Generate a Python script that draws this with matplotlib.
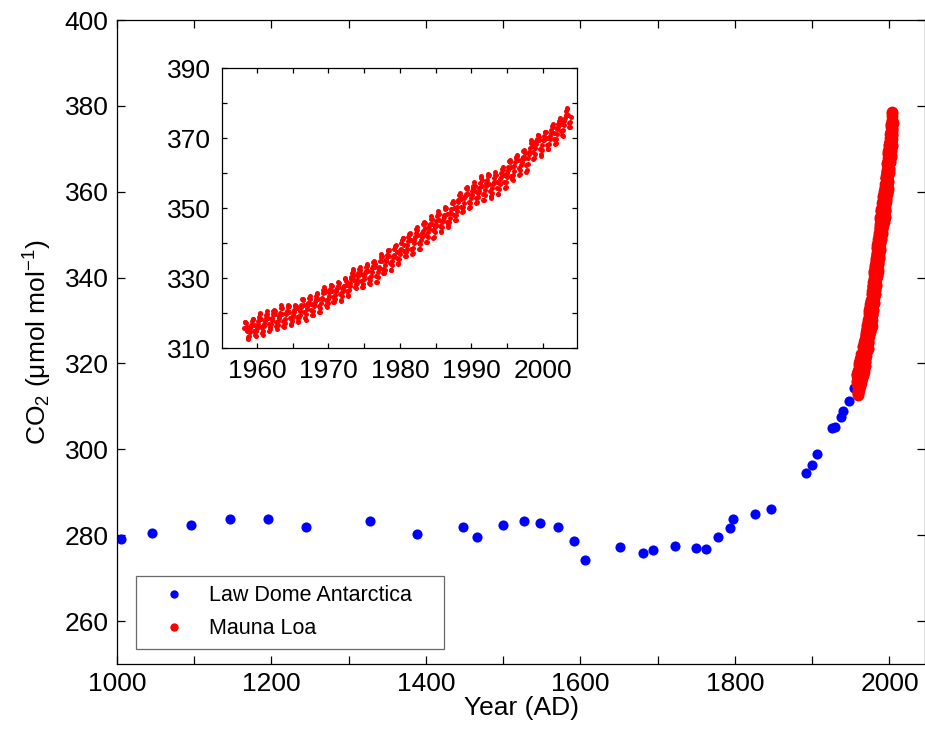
import numpy as np
import matplotlib
matplotlib.use("Agg")
import matplotlib.pyplot as plt
from matplotlib.ticker import FixedLocator, FixedFormatter

plt.rcParams['font.family'] = ['Liberation Sans', 'DejaVu Sans']
plt.rcParams['mathtext.fontset'] = 'custom'
plt.rcParams['mathtext.rm'] = 'Liberation Sans'
plt.rcParams['mathtext.it'] = 'Liberation Sans'
plt.rcParams['mathtext.default'] = 'regular'

# ---- Law Dome Antarctica ice-core CO2 ----
law_years = [1005, 1045, 1096, 1146, 1196, 1245, 1328, 1388, 1448, 1466,
             1500, 1527, 1548, 1571, 1591, 1606, 1651, 1681, 1694, 1722,
             1750, 1762, 1778, 1794, 1797, 1826, 1846, 1892, 1900, 1906,
             1926, 1930, 1937, 1940, 1948, 1954]
law_co2 = [279.2, 280.4, 282.3, 283.8, 283.8, 281.8, 283.4, 280.2, 281.8, 279.5,
           282.4, 283.2, 282.8, 281.9, 278.7, 274.2, 277.3, 275.8, 276.5, 277.4,
           277.1, 276.7, 279.5, 281.6, 283.7, 285.0, 286.0, 294.6, 296.3, 298.9,
           304.9, 305.3, 307.6, 308.9, 311.2, 314.3]

# ---- Mauna Loa monthly CO2 (first year starts in March) ----
ml_first_year = 1958
ml_first_month = 3
ml_monthly = [
    [315.7, 317.5, 317.5, 317.1, 315.9, 314.9, 313.2, 312.7, 313.3, 314.7],
    [315.6, 316.4, 316.7, 317.7, 318.3, 318.2, 316.5, 314.8, 313.8, 313.3, 314.8, 315.6],
    [316.4, 317.0, 317.6, 319.0, 320.0, 319.6, 318.2, 315.9, 314.2, 313.8, 315.0, 316.2],
    [316.9, 317.7, 318.5, 319.5, 320.6, 319.8, 318.6, 316.8, 314.8, 315.4, 316.1, 317.0],
    [317.9, 318.6, 319.7, 320.6, 321.0, 320.6, 319.6, 317.4, 316.3, 315.4, 316.7, 317.7],
    [318.7, 319.1, 319.9, 321.4, 322.3, 321.5, 319.7, 317.8, 316.2, 316.0, 317.1, 318.3],
    [319.6, 320.1, 320.7, 321.8, 322.3, 321.9, 320.4, 318.7, 316.7, 316.8, 317.8, 318.7],
    [319.4, 320.4, 320.9, 322.1, 322.2, 321.9, 321.4, 318.8, 317.8, 317.3, 318.9, 319.4],
    [320.6, 321.6, 322.4, 323.9, 324.0, 323.8, 322.4, 320.4, 318.6, 318.1, 319.8, 321.1],
    [322.1, 322.5, 323.0, 324.4, 325.0, 324.1, 322.6, 320.9, 319.3, 319.3, 320.7, 322.0],
    [322.6, 323.2, 323.9, 325.0, 325.6, 325.4, 324.1, 322.0, 320.4, 320.3, 321.3, 322.8],
    [324.0, 324.4, 325.6, 326.7, 327.4, 326.7, 325.9, 323.7, 322.4, 321.8, 322.9, 324.1],
    [325.0, 326.0, 326.9, 328.1, 328.1, 327.7, 326.4, 324.7, 323.1, 323.2, 324.0, 325.1],
    [326.2, 326.7, 327.2, 327.8, 328.9, 328.6, 327.3, 325.5, 323.4, 323.6, 324.8, 326.0],
    [326.8, 327.6, 327.8, 329.7, 330.1, 329.1, 328.1, 326.3, 324.9, 325.1, 326.5, 327.6],
    [328.5, 329.6, 330.3, 331.5, 332.5, 332.1, 330.9, 329.3, 327.5, 327.2, 328.2, 328.6],
    [329.4, 330.7, 331.5, 332.7, 333.2, 332.2, 331.1, 329.1, 327.3, 327.3, 328.3, 329.6],
    [330.7, 331.5, 331.9, 333.2, 333.9, 333.5, 332.0, 330.0, 328.5, 328.3, 329.4, 330.6],
    [331.6, 332.8, 333.5, 334.6, 334.8, 334.0, 333.1, 330.7, 329.0, 328.8, 330.2, 331.6],
    [332.7, 333.1, 335.0, 336.1, 336.9, 336.2, 334.9, 332.6, 331.3, 331.3, 332.4, 333.6],
    [335.0, 335.3, 336.7, 337.7, 338.0, 338.0, 336.4, 334.4, 332.4, 332.4, 333.8, 334.9],
    [336.1, 336.7, 338.3, 339.0, 339.2, 339.3, 337.5, 335.8, 334.0, 334.2, 335.3, 336.8],
    [337.9, 338.3, 340.0, 340.9, 341.5, 341.3, 339.4, 337.7, 336.2, 336.2, 337.3, 338.3],
    [339.3, 340.6, 341.6, 342.5, 343.0, 342.5, 340.8, 338.4, 337.0, 337.1, 338.6, 339.9],
    [341.0, 341.7, 342.8, 344.0, 344.6, 343.8, 342.3, 340.1, 338.3, 338.3, 339.6, 340.9],
    [341.7, 342.9, 343.3, 345.3, 346.0, 345.6, 344.2, 342.3, 340.4, 340.4, 341.6, 343.1],
    [344.1, 344.8, 345.5, 346.8, 347.6, 347.0, 345.5, 343.6, 341.4, 341.7, 343.1, 344.7],
    [345.2, 346.2, 347.7, 348.3, 349.1, 348.4, 346.7, 345.0, 343.3, 343.1, 344.5, 345.9],
    [346.6, 347.3, 348.0, 349.8, 350.4, 349.9, 348.2, 346.1, 345.2, 344.5, 345.9, 347.2],
    [348.5, 348.7, 349.7, 351.3, 352.1, 351.5, 350.1, 348.1, 346.5, 346.6, 348.0, 349.2],
    [350.4, 351.6, 352.4, 353.7, 354.2, 353.7, 352.7, 350.4, 348.9, 349.1, 350.2, 351.4],
    [352.9, 353.3, 354.0, 355.6, 355.9, 355.4, 354.0, 351.8, 350.1, 350.3, 351.5, 352.9],
    [353.8, 355.0, 355.7, 356.3, 357.3, 356.3, 354.8, 353.0, 351.3, 351.6, 353.1, 354.3],
    [354.8, 355.7, 357.2, 358.7, 359.1, 358.1, 356.2, 353.9, 352.3, 352.4, 353.8, 355.1],
    [356.3, 357.1, 357.9, 359.1, 359.6, 359.3, 357.0, 354.9, 353.0, 353.3, 354.3, 355.6],
    [357.0, 357.3, 358.5, 359.3, 360.2, 359.5, 357.3, 355.6, 354.0, 354.1, 355.4, 356.9],
    [358.2, 358.9, 360.0, 361.2, 361.7, 360.8, 359.4, 357.5, 355.7, 356.1, 357.5, 359.0],
    [359.9, 360.9, 361.8, 363.3, 363.7, 363.2, 361.6, 359.1, 358.2, 358.0, 359.5, 360.7],
    [362.1, 363.2, 364.2, 364.6, 365.1, 364.9, 363.6, 361.4, 359.5, 359.6, 360.9, 362.2],
    [363.1, 364.0, 364.5, 366.4, 366.6, 365.6, 364.3, 362.3, 360.3, 360.8, 362.5, 364.4],
    [365.3, 366.0, 367.2, 368.7, 369.4, 369.0, 367.8, 366.0, 364.0, 364.4, 365.5, 367.1],
    [368.2, 369.1, 369.7, 371.0, 371.0, 370.3, 369.5, 366.9, 364.8, 365.4, 366.7, 368.1],
    [369.3, 369.5, 370.6, 371.8, 371.6, 371.7, 369.9, 368.1, 367.0, 367.0, 368.4, 369.7],
    [370.6, 371.5, 372.4, 373.4, 373.9, 373.2, 371.5, 369.6, 368.2, 368.5, 369.8, 371.2],
    [372.5, 373.2, 374.1, 375.0, 375.8, 375.5, 374.0, 371.9, 370.8, 370.6, 372.3, 373.8],
    [374.9, 375.6, 376.5, 377.7, 378.6, 378.3, 376.7, 374.4, 373.2, 373.2, 374.7, 376.0],
]

ml_t, ml_co2 = [], []
for i, row in enumerate(ml_monthly):
    m0 = ml_first_month if i == 0 else 1
    for j, v in enumerate(row):
        ml_t.append(ml_first_year + i + (m0 + j - 0.5) / 12.0)
        ml_co2.append(v)

fig = plt.figure(figsize=(9.25, 7.32), dpi=100)
ax = fig.add_axes([117/925, 1 - 664/732, 1 - 117/925, (664 - 20)/732])

ax.plot(law_years, law_co2, 'o', color='#0000ff', markersize=7.3, markeredgewidth=0,
        label='Law Dome Antarctica')
ax.plot(ml_t, ml_co2, 'o', color='#ff0000', markersize=8.5, markeredgewidth=0,
        label='Mauna Loa')

ax.set_xlim(1000, 2046)
ax.set_ylim(250, 400)
xt = list(range(1000, 2001, 100))
ax.xaxis.set_major_locator(FixedLocator(xt))
ax.xaxis.set_major_formatter(FixedFormatter([str(v) if v % 200 == 0 else '' for v in xt]))
ax.set_yticks(range(260, 401, 20))
ax.tick_params(direction='in', length=6, width=0.9, top=True, right=True,
               labelsize=19, pad=6)
for s in ax.spines.values():
    s.set_linewidth(0.9)
ax.set_xlabel('Year (AD)', fontsize=19, labelpad=0)
ax.set_ylabel('CO$_2$ (μmol mol$^{-1}$)', fontsize=19, labelpad=8)

W = 925 - 117
H = 664 - 20
leg = ax.legend(loc='lower left',
                bbox_to_anchor=((136 - 117)/W, (664 - 649)/H, (444 - 136)/W, (649 - 575)/H),
                mode='expand',
                fontsize=15.5, frameon=True, fancybox=False, edgecolor='#444444',
                borderpad=0.45, handletextpad=0.35, labelspacing=0.55,
                handlelength=2.6, borderaxespad=0)
leg.get_frame().set_linewidth(0.9)
for h in leg.legend_handles:
    h.set_markersize(6.0)

# ---- inset ----
axin = fig.add_axes([222/925, 1 - 348/732, (577 - 222)/925, (348 - 68)/732])
axin.plot(ml_t, ml_co2, 'o', color='#ff0000', markersize=3.6, markeredgewidth=0)
axin.set_xlim(1955.1, 2004.8)
axin.set_ylim(310, 390)
it = list(range(1960, 2004, 5))
axin.xaxis.set_major_locator(FixedLocator(it))
axin.xaxis.set_major_formatter(FixedFormatter([str(v) if v % 10 == 0 else '' for v in it]))
iy = list(range(310, 391, 10))
axin.yaxis.set_major_locator(FixedLocator(iy))
axin.yaxis.set_major_formatter(FixedFormatter([str(v) if v % 20 == 10 else '' for v in iy]))
axin.tick_params(direction='in', length=3.5, width=0.9, top=True, right=True,
                 labelsize=19, pad=8)
for s in axin.spines.values():
    s.set_linewidth(0.9)

fig.savefig('out.png', dpi=100)
